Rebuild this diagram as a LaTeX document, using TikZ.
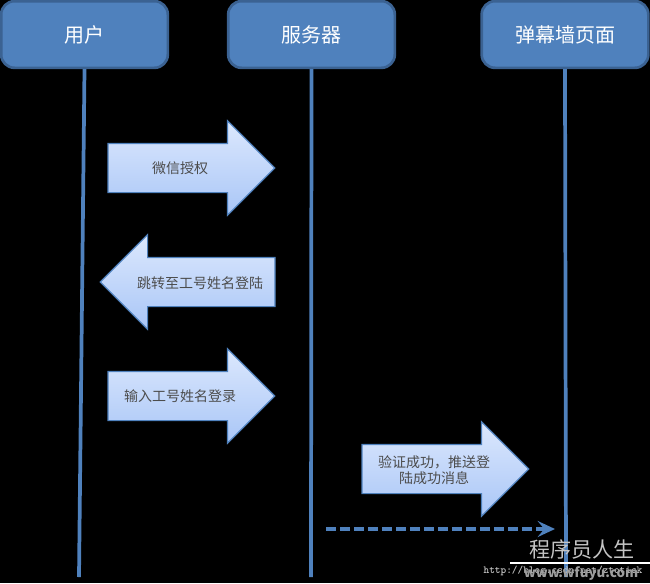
\documentclass[tikz,border=0pt]{standalone}
\usepackage{fontspec}
\setmainfont{Noto Sans CJK SC}
\usetikzlibrary{shapes.arrows,arrows.meta}
\definecolor{boxfill}{HTML}{4F81BD}
\definecolor{boxedge}{HTML}{3B6292}
\definecolor{arrowtop}{HTML}{DCE8FD}
\definecolor{arrowbot}{HTML}{A9C6F7}
\definecolor{markgray}{HTML}{C4C4C4}
\tikzset{
  actor/.style={draw=boxedge,fill=boxfill,line width=2pt,rounded corners=10pt,
    minimum width=125pt,minimum height=50pt,inner sep=0pt,text=white,font=\fontsize{15}{18}\selectfont},
  lifeline/.style={draw=boxfill,line width=2.8pt},
  msgarrow/.style={single arrow,draw=boxfill,line width=0.9pt,top color=arrowtop,bottom color=arrowbot,
    minimum height=125pt,inner xsep=0pt,inner ysep=18pt,single arrow head extend=17pt,single arrow tip angle=90,
    outer sep=0pt},
  msgtext/.style={text=black!70,font=\fontsize{10.5}{12}\selectfont,align=center,inner sep=0pt},
}
\begin{document}
\begin{tikzpicture}[x=0.75pt,y=-0.75pt]
  \useasboundingbox[fill=black] (0,0) rectangle (650,583);
  \node[actor] (user) at (84.5,34.5) {用户};
  \node[actor] (server) at (311.5,34.5) {服务器};
  \node[actor] (page) at (565,34.5) {弹幕墙页面};
  \coordinate (userend) at (79,577);
  \coordinate (serverend) at (311,577);
  \coordinate (pageend) at (566,577);
  \draw[lifeline] (user.south) -- (userend);
  \draw[lifeline] (server.south) -- (serverend);
  \draw[lifeline] (page.south) -- (pageend);
  % messages
  \node[msgarrow,anchor=tail] (auth) at (108,168) {};
  \node[msgarrow,anchor=tail,shape border rotate=180,minimum height=131pt] (jump) at (275,282) {};
  \node[msgarrow,anchor=tail] (input) at (108,396) {};
  \node[msgarrow,anchor=tail] (push) at (362,469) {};
  \node[msgtext] (authtext) at (180,168) {微信授权};
  \node[msgtext] (jumptext) at (200,283) {跳转至工号姓名登陆};
  \node[msgtext] (inputtext) at (180,396) {输入工号姓名登录};
  \node[msgtext] (pushtext) at (434,470) {验证成功，推送登\\陆成功消息};
  \coordinate (dashstart) at (326,529);
  \coordinate (dashend) at (555,529);
  \draw[boxfill,line width=2.6pt,dash pattern=on 7.5pt off 3pt,-{Stealth[length=13pt,width=12pt,inset=5pt]}] (dashstart) -- (dashend);
  % site mark
  \node[text=markgray,font=\fontsize{15.8}{18}\selectfont,inner sep=0pt] (mark) at (582,549) {程序员人生};
  \coordinate (ruleleft) at (510,563);
  \coordinate (ruleright) at (650,563);
  \draw[white,line width=0.8pt] (ruleleft) -- (ruleright);
  \node[text=markgray,font=\ttfamily\bfseries\fontsize{8.1}{9}\selectfont,inner sep=0pt] (url) at (563,571) {http://blog.csdn.net/ztotick};
  \node[text=markgray!80!black,font=\bfseries\fontsize{10}{10}\selectfont,inner sep=0pt] (site) at (581,574) {www.wfuyu.com};
\end{tikzpicture}
\end{document}
